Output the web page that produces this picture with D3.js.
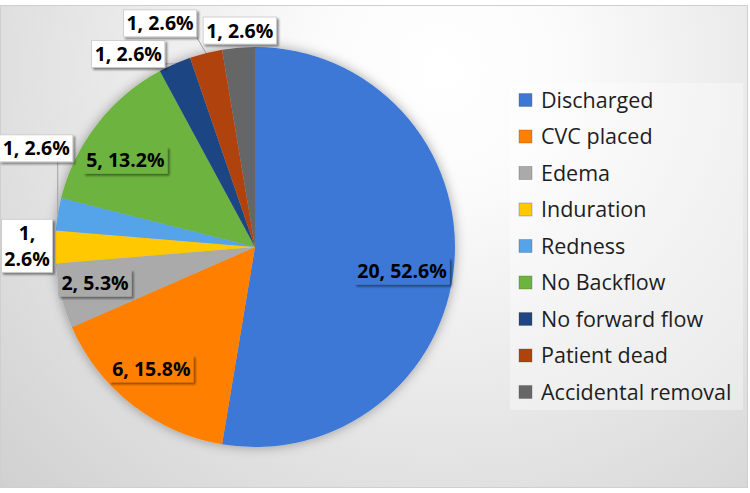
<!DOCTYPE html>
<html>
<head>
<meta charset="utf-8">
<script src="https://cdn.jsdelivr.net/npm/d3@7"></script>
<style>
  body { margin: 0; background: #fff; }
  svg { display: block; }
</style>
</head>
<body>
<script>
// data
let categories = ["Discharged", "CVC placed", "Edema", "Induration", "Redness",
                  "No Backflow", "No forward flow", "Patient dead", "Accidental removal"];
let counts = [20, 6, 2, 1, 1, 5, 1, 1, 1];
let percents = ["52.6%", "15.8%", "5.3%", "2.6%", "2.6%", "13.2%", "2.6%", "2.6%", "2.6%"];
let colors = ["#3d78d6", "#ff8000", "#aaaaaa", "#ffc800", "#55a3e8",
              "#6db33f", "#1f4584", "#b0430a", "#666666"];

// label placement: angle shift (deg) from slice middle, distance from centre, inside/outside
let labelLayout = [
    {shift: 4.6, dist: 149, inside: true},
    {shift: 2.5, dist: 160, inside: true},
    {shift: 1.5, dist: 164, inside: true},
    {shift: 0.3, dist: 228, inside: false, wrap: true},
    {shift: 14.8, dist: 240, inside: false, leader: true},
    {shift: -4.1, dist: 156, inside: true},
    {shift: -9.6, dist: 231, inside: false, leader: true},
    {shift: -8.8, dist: 243, inside: false, leader: true},
    {shift: 0.7, dist: 217, inside: false}
];

let width = 750, height = 493;
let cx = 255, cy = 247, radius = 200;

let svg = d3.select("body").append("svg")
    .attr("width", width)
    .attr("height", height);

let defs = svg.append("defs");

let grad = defs.append("radialGradient")
    .attr("id", "bg")
    .attr("gradientUnits", "userSpaceOnUse")
    .attr("cx", 440).attr("cy", 70).attr("r", 620);
grad.append("stop").attr("offset", "0%").attr("stop-color", "#ffffff");
grad.append("stop").attr("offset", "20%").attr("stop-color", "#fbfbfb");
grad.append("stop").attr("offset", "100%").attr("stop-color", "#cfcfcf");

let glow = defs.append("filter").attr("id", "glow")
    .attr("x", "-20%").attr("y", "-20%").attr("width", "140%").attr("height", "140%");
glow.append("feDropShadow")
    .attr("dx", 0).attr("dy", 0)
    .attr("stdDeviation", 6)
    .attr("flood-color", "#000")
    .attr("flood-opacity", 0.35);

let shadow = defs.append("filter").attr("id", "shadow")
    .attr("x", "-20%").attr("y", "-30%").attr("width", "150%").attr("height", "170%");
shadow.append("feDropShadow")
    .attr("dx", 2).attr("dy", 2)
    .attr("stdDeviation", 1.2)
    .attr("flood-color", "#000")
    .attr("flood-opacity", 0.45);

// chart frame
svg.append("rect")
    .attr("x", 0.5).attr("y", 5.5)
    .attr("width", 747).attr("height", 482)
    .attr("fill", "url(#bg)")
    .attr("stroke", "#cfcfcf");

// pie
let pie = d3.pie().sort(null).value(d => d)(counts);
let arc = d3.arc().innerRadius(0).outerRadius(radius);

let g = svg.append("g").attr("transform", "translate(" + cx + "," + cy + ")");

g.append("g")
    .attr("filter", "url(#glow)")
    .selectAll("path")
    .data(pie)
    .enter()
    .append("path")
    .attr("d", arc)
    .attr("fill", (d, i) => colors[i]);

function polar(angle, dist) {
    return [dist * Math.sin(angle), -dist * Math.cos(angle)];
}

// data labels
let fontSize = 19.5;
let labels = g.selectAll("g.label")
    .data(pie)
    .enter()
    .append("g")
    .attr("class", "label");

labels.each(function(d, i) {
    let lay = labelLayout[i];
    let mid = (d.startAngle + d.endAngle) / 2;
    let p = polar(mid + lay.shift * Math.PI / 180, lay.dist);
    let sel = d3.select(this);
    let lines = lay.wrap ? [counts[i] + ",", percents[i]] : [counts[i] + ", " + percents[i]];

    let box = sel.append("rect");
    let txt = sel.append("text")
        .attr("text-anchor", "middle")
        .style("font-family", "'Open Sans', sans-serif")
        .style("font-weight", "bold")
        .style("font-size", fontSize + "px")
        .attr("fill", "#000");

    let lh = 26;
    lines.forEach((t, k) => {
        txt.append("tspan")
            .attr("x", p[0])
            .attr("y", p[1] + (k - (lines.length - 1) / 2) * lh + 7)
            .text(t);
    });

    let w = txt.node().getBBox().width + 6;
    let h = lines.length * lh + 1;
    if (lay.wrap) w = 51;
    let bx = p[0] - w / 2, by = p[1] - h / 2;
    box.attr("x", bx).attr("y", by)
        .attr("width", w).attr("height", h)
        .attr("fill", lay.inside ? colors[i] : "#ffffff")
        .attr("stroke", lay.inside ? "none" : "#c8c8c8")
        .attr("stroke-width", 0.8)
        .attr("filter", "url(#shadow)");

    if (lay.leader) {
        let a = polar(mid, radius);
        let ex = Math.max(bx, Math.min(a[0], bx + w));
        let ey = Math.max(by, Math.min(a[1], by + h));
        sel.insert("path", "rect")
            .attr("d", "M" + ex + "," + ey + "L" + a[0] + "," + a[1])
            .attr("fill", "none")
            .attr("stroke", "#a0a0a0")
            .attr("stroke-width", 1);
    }
});

// legend
let legendY = d3.scalePoint().domain(categories).range([100, 392]);

svg.append("rect")
    .attr("x", 510).attr("y", 83)
    .attr("width", 233).attr("height", 327)
    .attr("fill", "#ffffff")
    .attr("fill-opacity", 0.35);

let legend = svg.selectAll("g.legend")
    .data(categories)
    .enter()
    .append("g")
    .attr("class", "legend")
    .attr("transform", d => "translate(519," + legendY(d) + ")");

legend.append("rect")
    .attr("x", 0).attr("y", -6.5)
    .attr("width", 13).attr("height", 13)
    .attr("fill", (d, i) => colors[i])
    .attr("stroke", "#444")
    .attr("stroke-opacity", 0.35)
    .attr("stroke-width", 0.8);

legend.append("text")
    .attr("x", 22)
    .attr("y", 7.5)
    .style("font-family", "'Open Sans', sans-serif")
    .style("font-size", "21.5px")
    .attr("fill", "#1e1e1e")
    .text(d => d);
</script>
</body>
</html>
